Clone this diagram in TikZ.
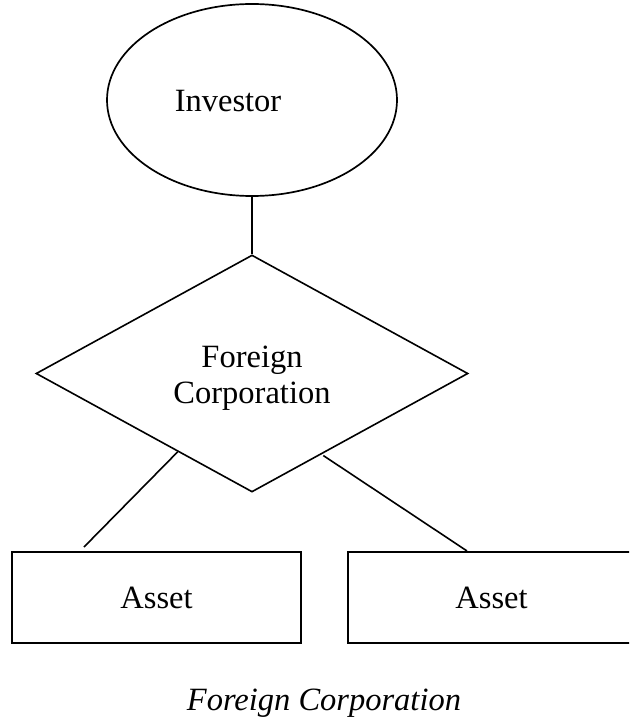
\documentclass[tikz,border=0pt]{standalone}
\usepackage{fontspec}
\setmainfont{Liberation Serif}
\usetikzlibrary{shapes.geometric,calc}
\begin{document}
\begin{tikzpicture}[x=1pt,y=-1pt,
  lbl/.style={inner sep=0pt,font=\fontsize{32.5}{36}\selectfont},
  shp/.style={draw,line width=1.7pt,inner sep=0pt},
  boxst/.style={draw,line width=2.2pt,inner sep=0pt,minimum width=289pt,minimum height=91pt,font=\fontsize{32.5}{36}\selectfont},
  link/.style={line width=1.6pt}]
\useasboundingbox (0,0) rectangle (629,719);
\begin{scope}
\clip (0,0) rectangle (629,719);
\node[shp,ellipse,minimum width=290pt,minimum height=192pt] (inv) at (252,100) {};
\node[lbl,anchor=base] (invt) at (228,112) {Investor};
\node[shp,diamond,line width=1.6pt,minimum width=432pt,minimum height=237pt,aspect=1.82] (dia) at (252,373.5) {};
\node[lbl,align=center] (diat) at (252,378) {Foreign\\Corporation};
\node[boxst] (a1) at (156.5,597.5) {Asset};
\node[boxst,minimum width=287pt] (a2) at (491.5,597.5) {Asset};
\node[lbl,anchor=base,font=\fontsize{32.5}{36}\selectfont\itshape] (cap) at (324,710) {Foreign Corporation};
\coordinate (l1) at (84,547);
\draw[line width=2.3pt] (inv.south) -- (dia.north);
\draw[link] ($(dia.west)!0.657!(dia.south)$) -- (l1);
\draw[link] ($(dia.east)!0.671!(dia.south)+(0,2)$) -- ($(a2.north west)!0.415!(a2.north east)$);
\end{scope}
\end{tikzpicture}
\end{document}
